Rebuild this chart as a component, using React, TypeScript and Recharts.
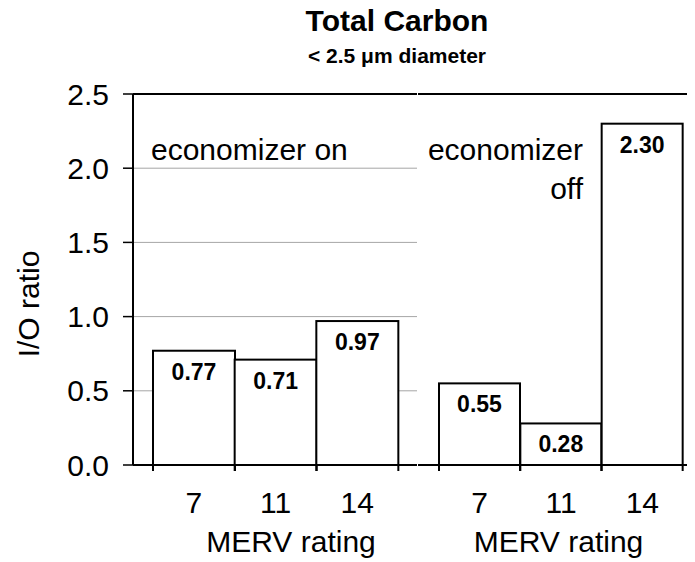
import React from "react";
import {
  BarChart,
  Bar,
  XAxis,
  YAxis,
  CartesianGrid,
  ReferenceLine,
  LabelList,
} from "recharts";

// MERV filter ratings shown under each panel
const mervRatings = ["7", "11", "14"];
// indoor/outdoor ratio of total carbon (< 2.5 um)
const ioRatioEconomizerOn = [0.77, 0.71, 0.97];
const ioRatioEconomizerOff = [0.55, 0.28, 2.3];
const yTicks = [0, 0.5, 1, 1.5, 2, 2.5];

const FONT = '"Liberation Sans", Arial, sans-serif';
const GRID = "#a6a6a6";

const onData = mervRatings.map((merv, i) => ({ merv, ratio: ioRatioEconomizerOn[i] }));
const offData = mervRatings.map((merv, i) => ({ merv, ratio: ioRatioEconomizerOff[i] }));

// white bar with black outline plus the little tick marks under its edges
const BarWithTicks = (props: any) => {
  const { x, y, width, height } = props;
  const base = y + height;
  return (
    <g>
      <rect x={x} y={y} width={width} height={height} fill="#fff" stroke="#000" strokeWidth={2} />
      <line x1={x} x2={x} y1={base} y2={base + 6} stroke="#000" strokeWidth={2} />
      <line x1={x + width} x2={x + width} y1={base} y2={base + 6} stroke="#000" strokeWidth={2} />
    </g>
  );
};

const renderValue = (props: any) => {
  const { x, y, width, value } = props;
  return (
    <text
      x={Number(x) + Number(width) / 2}
      y={Number(y) + 29}
      textAnchor="middle"
      fontFamily={FONT}
      fontWeight="bold"
      fontSize={23}
      fill="#000"
    >
      {Number(value).toFixed(2)}
    </text>
  );
};

const tickStyle = { fill: "#000", fontSize: 30, fontFamily: FONT };

const App = () => {
  return (
    <div style={{ position: "relative", width: 687, height: 554 }}>
      {/* economizer on */}
      <div style={{ position: "absolute", left: 0, top: 0 }}>
        <BarChart
          width={409}
          height={554}
          data={onData}
          margin={{ top: 86, right: 0, bottom: 0, left: 0 }}
          barCategoryGap={0}
          barGap={0}
        >
          <CartesianGrid vertical={false} stroke={GRID} />
          <XAxis
            dataKey="merv"
            height={97}
            padding={{ left: 20, right: 19 }}
            tickLine={false}
            tickSize={0}
            tickMargin={27}
            axisLine={{ stroke: "#000", strokeWidth: 2 }}
            tick={tickStyle}
            label={{
              value: "MERV rating",
              position: "insideBottom",
              offset: 10,
              dx: 16,
              fill: "#000",
              fontSize: 30,
              fontFamily: FONT,
            }}
          />
          <YAxis
            width={125}
            domain={[0, 2.5]}
            ticks={yTicks}
            tickFormatter={(v: number) => v.toFixed(1)}
            tickSize={10}
            tickMargin={14}
            axisLine={{ stroke: "#000", strokeWidth: 2 }}
            tickLine={{ stroke: "#000", strokeWidth: 1.5 }}
            tick={tickStyle}
          />
          <ReferenceLine y={2.5} stroke="#000" strokeWidth={2} />
          <Bar dataKey="ratio" isAnimationActive={false} shape={BarWithTicks}>
            <LabelList dataKey="ratio" content={renderValue} />
          </Bar>
        </BarChart>
      </div>

      {/* economizer off (panel runs past the right edge, as in the source) */}
      <div style={{ position: "absolute", left: 409, top: 0, width: 278, height: 554, overflow: "hidden" }}>
        <BarChart
          width={286}
          height={554}
          data={offData}
          margin={{ top: 86, right: 0, bottom: 0, left: 1 }}
          barCategoryGap={0}
          barGap={0}
        >
          <CartesianGrid vertical={false} stroke={GRID} />
          <XAxis
            dataKey="merv"
            height={97}
            padding={{ left: 21, right: 20 }}
            tickLine={false}
            tickSize={0}
            tickMargin={27}
            axisLine={{ stroke: "#000", strokeWidth: 2 }}
            tick={tickStyle}
            label={{
              value: "MERV rating",
              position: "insideBottom",
              offset: 10,
              dx: -2,
              fill: "#000",
              fontSize: 30,
              fontFamily: FONT,
            }}
          />
          <YAxis
            width={0}
            domain={[0, 2.5]}
            ticks={yTicks}
            tick={false}
            tickLine={false}
            axisLine={{ stroke: "#000", strokeWidth: 2 }}
          />
          <ReferenceLine y={2.5} stroke="#000" strokeWidth={2} />
          <Bar dataKey="ratio" isAnimationActive={false} shape={BarWithTicks}>
            <LabelList dataKey="ratio" content={renderValue} />
          </Bar>
        </BarChart>
      </div>

      {/* titles and panel notes, in page coordinates */}
      <svg
        width={695}
        height={562}
        style={{ position: "absolute", left: -8, top: -8, pointerEvents: "none" }}
        fontFamily={FONT}
        fill="#000"
      >
        <text x={397} y={31} textAnchor="middle" fontSize={30} fontWeight="bold">
          Total Carbon
        </text>
        <text x={397} y={63} textAnchor="middle" fontSize={21} fontWeight="bold">
          {"< 2.5 \u03bcm diameter"}
        </text>
        <text x={39} y={304} textAnchor="middle" fontSize={30} transform="rotate(-90 39 304)">
          I/O ratio
        </text>
        <text x={151} y={160} fontSize={30}>
          economizer on
        </text>
        <text x={583} y={160} textAnchor="end" fontSize={30}>
          economizer
        </text>
        <text x={583} y={199} textAnchor="end" fontSize={30}>
          off
        </text>
      </svg>
    </div>
  );
};

export default App;
